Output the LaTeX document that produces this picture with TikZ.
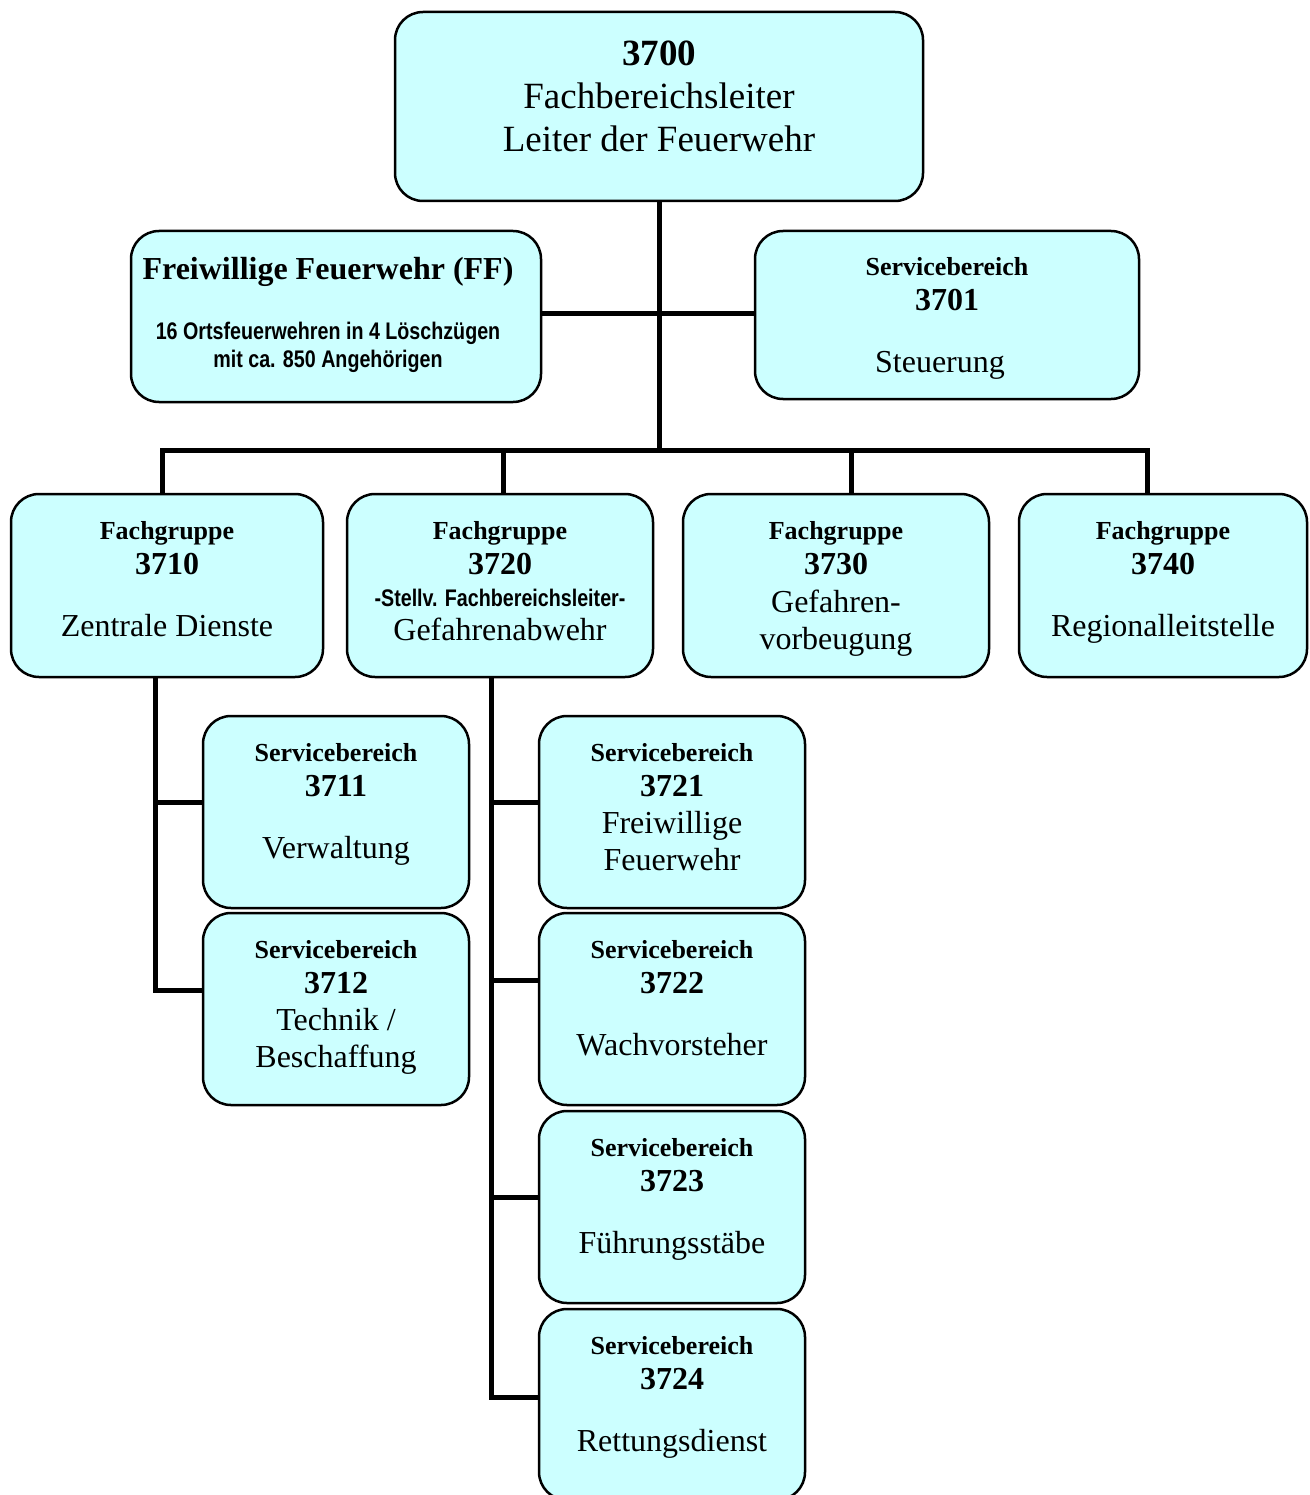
\documentclass[tikz,border=0pt]{standalone}
\usepackage{fontspec}
\setmainfont{Liberation Serif}
\newfontfamily\narrowsans[FakeStretch=0.82]{Liberation Sans}
\usetikzlibrary{positioning,backgrounds}
\definecolor{boxcyan}{RGB}{204,255,255}
\newcommand\grouptitle[1]{{\fontsize{26}{30}\selectfont\bfseries #1}}
\newcommand\ffsmall{\narrowsans\bfseries\fontsize{24}{28}\selectfont}
\begin{document}
\begin{tikzpicture}[x=1pt,y=-1pt,
	box/.style={draw, line width=2.5pt, rounded corners=28pt, fill=boxcyan, inner sep=0pt},
	txt/.style={align=center, inner sep=0pt, font=\fontsize{32}{37}\selectfont},
	conn/.style={line width=5pt}]
	\useasboundingbox (0,0) rectangle (1309,1495);
	\node[box, minimum width=528pt, minimum height=189pt] (b3700) at (659,106.5) {};
	\node[box, minimum width=410pt, minimum height=171pt] (bFF) at (336,316.5) {};
	\node[box, minimum width=384pt, minimum height=168pt] (b3701) at (947,315) {};
	\node[box, minimum width=312pt, minimum height=183pt] (b3710) at (167,585.5) {};
	\node[box, minimum width=306pt, minimum height=183pt] (b3720) at (500,585.5) {};
	\node[box, minimum width=306pt, minimum height=183pt] (b3730) at (836,585.5) {};
	\node[box, minimum width=288pt, minimum height=183pt] (b3740) at (1163,585.5) {};
	\node[box, minimum width=266pt, minimum height=192pt] (b3711) at (336,812) {};
	\node[box, minimum width=266pt, minimum height=192pt] (b3712) at (336,1009) {};
	\node[box, minimum width=266pt, minimum height=192pt] (b3721) at (672,812) {};
	\node[box, minimum width=266pt, minimum height=192pt] (b3722) at (672,1009) {};
	\node[box, minimum width=266pt, minimum height=192pt] (b3723) at (672,1207) {};
	\node[box, minimum width=266pt, minimum height=191pt] (b3724) at (672,1404.5) {};
	\node[txt, font=\fontsize{37}{43}\selectfont, below=29.5pt of b3700.north] (t3700) {\textbf{3700}\\Fachbereichsleiter\\Leiter der Feuerwehr};
	\node[txt, font=\fontsize{32}{28}\selectfont, below=27.5pt of bFF.north, xshift=-8pt] (tFF) {\textbf{Freiwillige Feuerwehr (FF)}\\[32pt]{\ffsmall 16 Ortsfeuerwehren in 4 Löschzügen}\\{\ffsmall mit ca. 850 Angehörigen}};
	\node[txt, below=27.5pt of b3701.north] (t3701) {\grouptitle{Servicebereich}\\[-2pt]\textbf{3701}\\[25pt]Steuerung\kern14pt};
	\node[txt, below=28.5pt of b3710.north] (t3710) {\grouptitle{Fachgruppe}\\[-2pt]\textbf{3710}\\[25pt]Zentrale Dienste};
	\node[txt, below=28.5pt of b3720.north] (t3720) {\grouptitle{Fachgruppe}\\[-2pt]\textbf{3720}\\[-5pt]{\ffsmall -Stellv. Fachbereichsleiter-}\\[-2.5pt]Gefahrenabwehr};
	\node[txt, below=28.5pt of b3730.north] (t3730) {\grouptitle{Fachgruppe}\\[-2pt]\textbf{3730}\\[1pt]Gefahren-\\vorbeugung};
	\node[txt, below=28.5pt of b3740.north] (t3740) {\grouptitle{Fachgruppe}\\[-2pt]\textbf{3740}\\[25pt]Regionalleitstelle};
	\node[txt, below=28.5pt of b3711.north] (t3711) {\grouptitle{Servicebereich}\\[-2pt]\textbf{3711}\\[25pt]Verwaltung};
	\node[txt, below=28.5pt of b3712.north] (t3712) {\grouptitle{Servicebereich}\\[-2pt]\textbf{3712}\\Technik /\\Beschaffung};
	\node[txt, below=28.5pt of b3721.north] (t3721) {\grouptitle{Servicebereich}\\[-2pt]\textbf{3721}\\Freiwillige\\Feuerwehr};
	\node[txt, below=28.5pt of b3722.north] (t3722) {\grouptitle{Servicebereich}\\[-2pt]\textbf{3722}\\[25pt]Wachvorsteher};
	\node[txt, below=28.5pt of b3723.north] (t3723) {\grouptitle{Servicebereich}\\[-2pt]\textbf{3723}\\[25pt]Führungsstäbe};
	\node[txt, below=28.5pt of b3724.north] (t3724) {\grouptitle{Servicebereich}\\[-2pt]\textbf{3724}\\[25pt]Rettungsdienst};
	\coordinate (bus) at (659,450);
	\coordinate (jFF) at ([yshift=3pt]bFF.east);
	\coordinate (d3720) at ([xshift=3pt]b3720.north);
	\coordinate (d3730) at ([xshift=15pt]b3730.north);
	\coordinate (s3710) at ([xshift=-12pt]b3710.south);
	\coordinate (s3720) at ([xshift=-9pt]b3720.south);
	\coordinate (j3711) at ([yshift=10pt]b3711.west);
	\coordinate (j3712) at ([yshift=19pt]b3712.west);
	\coordinate (j3721) at ([yshift=10pt]b3721.west);
	\coordinate (j3722) at ([yshift=29pt]b3722.west);
	\coordinate (j3723) at ([yshift=10pt]b3723.west);
	\coordinate (j3724) at ([yshift=7pt]b3724.west);
	\begin{scope}[on background layer]
		\draw[conn] (b3700.south) -- (bus);
		\draw[conn] (jFF) -- (jFF -| b3701.west);
		\draw[conn] ([xshift=-5pt]b3710.north) |- (bus) -| ([xshift=-16pt]b3740.north);
		\draw[conn] (d3720) -- (d3720 |- bus) (d3730) -- (d3730 |- bus);
		\draw[conn] (s3710) |- (j3712) (j3711 -| s3710) -- (j3711);
		\draw[conn] (s3720) |- (j3724) (j3721 -| s3720) -- (j3721) (j3722 -| s3720) -- (j3722) (j3723 -| s3720) -- (j3723);
	\end{scope}
\end{tikzpicture}
\end{document}
